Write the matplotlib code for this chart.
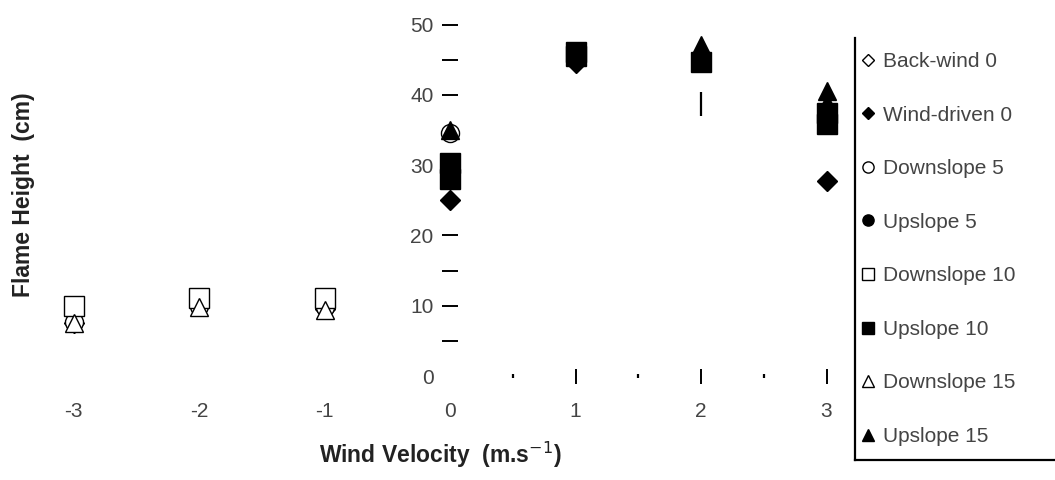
import matplotlib
matplotlib.use("Agg")
import matplotlib.pyplot as plt
from matplotlib.lines import Line2D
from matplotlib.ticker import FixedLocator

plt.rcParams['font.family'] = ['Liberation Sans', 'DejaVu Sans']

# flame height (cm) against wind velocity (m/s), one list pair per fire type
back_wind_x = [-3, -2, -1]
back_wind_y = [7.5, 10.0, 9.5]
wind_driven_x = [0, 1, 3]
wind_driven_y = [25.0, 44.5, 27.7]
down5_x = [-3, -2, -1, 0]
down5_y = [7.7, 10.0, 9.8, 34.6]
up5_x = [0, 1, 2, 3]
up5_y = [28.5, 46.0, 45.0, 36.0]
down10_x = [-3, -2, -1]
down10_y = [10.0, 11.1, 11.1]
up10_x = [0, 0, 1, 1, 2, 3, 3]
up10_y = [30.3, 28.0, 46.1, 45.5, 44.7, 37.5, 35.9]
down15_x = [-3, -2, -1]
down15_y = [7.5, 9.8, 9.4]
up15_x = [0, 2, 3, 3]
up15_y = [35.0, 47.1, 40.6, 38.9]
# single bar mark at 2 m/s
bar_x = [2]
bar_y = [38.7]

labels = ['Back-wind 0', 'Wind-driven 0', 'Downslope 5', 'Upslope 5',
          'Downslope 10', 'Upslope 10', 'Downslope 15', 'Upslope 15']
xs = [back_wind_x, wind_driven_x, down5_x, up5_x, down10_x, up10_x, down15_x, up15_x]
ys = [back_wind_y, wind_driven_y, down5_y, up5_y, down10_y, up10_y, down15_y, up15_y]
markers = ['D', 'D', 'o', 'o', 's', 's', '^', '^']
filled = [False, True, False, True, False, True, False, True]
sizes = [9.7, 9.7, 13, 13, 14, 14, 13, 13]

x_ticks = [-3, -2, -1, 0, 1, 2, 3]
y_ticks = [0, 10, 20, 30, 40, 50]

W, H = 1055, 480
fig = plt.figure(figsize=(W / 100, H / 100), dpi=100)

# pixel layout: x = 0 at 450 px, 125.5 px per unit; y = 0 at 376 px, 7.025 px per cm
x0, sx = 450, 125.5
y0, sy = 376, 7.025
left_px, right_px, top_px = 30, 850, 20
ax = fig.add_axes([left_px / W, (H - y0) / H, (right_px - left_px) / W, (y0 - top_px) / H])
ax.set_xlim((left_px - x0) / sx, (right_px - x0) / sx)
ax.set_ylim(0, (y0 - top_px) / sy)

for x, y, m, f, s, lab in zip(xs, ys, markers, filled, sizes, labels):
    ax.plot(x, y, linestyle='none', marker=m, markersize=s,
            markerfacecolor='black' if f else 'white', markeredgecolor='black',
            markeredgewidth=1.0, label=lab, clip_on=False)
ax.plot(bar_x, bar_y, linestyle='none', marker='|', markersize=17,
        markeredgewidth=1.6, color='black', clip_on=False)

for sp in ax.spines.values():
    sp.set_visible(False)
ax.spines['left'].set_position(('data', 0))

ax.xaxis.set_major_locator(FixedLocator(x_ticks))
ax.xaxis.set_minor_locator(FixedLocator([0.5, 1.5, 2.5]))
ax.yaxis.set_major_locator(FixedLocator(y_ticks))
ax.yaxis.set_minor_locator(FixedLocator([5, 15, 25, 35, 45]))
ax.set_xticklabels([str(v) for v in x_ticks])

txt_col = '#444444'
ax.tick_params(axis='x', which='major', direction='inout', length=10.8, width=1.4,
               pad=13, labelsize=15, labelcolor=txt_col)
ax.tick_params(axis='x', which='minor', direction='inout', length=2.5, width=1.6)
ax.tick_params(axis='y', which='both', direction='inout', length=11.5, width=1.4,
               pad=6, labelsize=15, labelcolor=txt_col)

# no tick lines left of (and at) the origin
for t, v in zip(ax.xaxis.get_major_ticks(), x_ticks):
    if v <= 0:
        t.tick1line.set_visible(False)
ax.yaxis.get_major_ticks()[0].tick1line.set_visible(False)

ax.set_xlabel('Wind Velocity  (m.s$^{-1}$)', fontsize=16.5, fontweight='bold',
              color='#222222', labelpad=14)
ax.set_ylabel('Flame Height  (cm)', fontsize=16.5, fontweight='bold', color='#222222')
ax.yaxis.set_label_coords((35 - left_px) / (right_px - left_px), (y0 - 195) / (y0 - top_px))

leg = fig.legend(loc='upper left', bbox_to_anchor=(860 / W, 1 - 52 / H), frameon=False,
                 fontsize=15, markerscale=0.62, handlelength=0.75, handletextpad=0.35,
                 labelspacing=1.66, borderpad=0, borderaxespad=0)
for txt in leg.get_texts():
    txt.set_color(txt_col)

# legend box: only the left and bottom edges fall inside the figure
fig.add_artist(Line2D([855 / W, 855 / W], [1 - 38 / H, 1 - 460 / H], color='black', linewidth=1.6))
fig.add_artist(Line2D([855 / W, 1.0], [1 - 460 / H, 1 - 460 / H], color='black', linewidth=1.6))

fig.savefig('out.png', dpi=100)
